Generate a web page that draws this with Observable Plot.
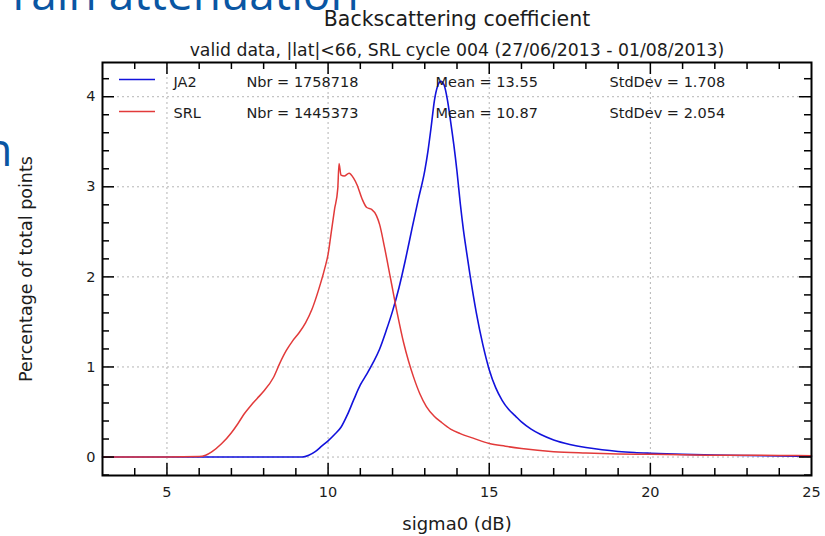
<!DOCTYPE html>
<html><head><meta charset="utf-8">
<script src="https://cdn.jsdelivr.net/npm/d3@7"></script>
<script src="https://cdn.jsdelivr.net/npm/@observablehq/plot@0.6"></script>
<style>
html,body{margin:0;padding:0;background:#fff;overflow:hidden}
</style>
</head><body><div id="chart"></div>
<script>
// ---- data ----
const seriesNames = ["JA2", "SRL"];
const legendNbr = ["1758718", "1445373"];
const legendMean = ["13.55", "10.87"];
const legendStd = ["1.708", "2.054"];

const ja2X = [3, 5, 9.2, 9.4, 9.6, 9.8, 10.0, 10.2, 10.4, 10.6, 10.8, 11.0, 11.2, 11.4, 11.6, 11.8, 12.0, 12.2, 12.4, 12.6, 12.8, 13.0, 13.1, 13.2, 13.3, 13.4, 13.5, 13.6, 13.7, 13.8, 13.9, 14.0, 14.1, 14.2, 14.3, 14.4, 14.6, 14.8, 15.0, 15.2, 15.4, 15.6, 15.8, 16.0, 16.3, 16.6, 17.0, 17.5, 18.0, 18.5, 19.0, 19.5, 20.0, 21.0, 22.0, 23.0, 24.0, 25.0];
const ja2Y = [0, 0, 0, 0.02, 0.06, 0.12, 0.18, 0.25, 0.33, 0.47, 0.64, 0.80, 0.92, 1.05, 1.20, 1.40, 1.62, 1.88, 2.19, 2.53, 2.86, 3.18, 3.40, 3.67, 3.96, 4.12, 4.17, 4.13, 3.97, 3.73, 3.47, 3.17, 2.82, 2.52, 2.27, 2.03, 1.60, 1.25, 0.97, 0.77, 0.63, 0.53, 0.46, 0.39, 0.31, 0.25, 0.19, 0.14, 0.105, 0.08, 0.062, 0.05, 0.042, 0.03, 0.022, 0.017, 0.013, 0.008];

const srlX = [3, 5, 6.0, 6.2, 6.4, 6.7, 7.0, 7.2, 7.4, 7.6, 7.8, 8.0, 8.3, 8.5, 8.7, 8.9, 9.1, 9.3, 9.5, 9.7, 9.9, 10.0, 10.1, 10.2, 10.3, 10.34, 10.4, 10.5, 10.65, 10.8, 10.9, 11.05, 11.2, 11.35, 11.5, 11.6, 11.75, 11.95, 12.15, 12.35, 12.5, 12.65, 12.85, 13.05, 13.3, 13.5, 13.8, 14.1, 14.5, 15.0, 15.5, 16.0, 17.0, 18.0, 19.0, 20.0, 21.0, 22.0, 23.0, 24.0, 25.0];
const srlY = [0, 0, 0.005, 0.02, 0.06, 0.15, 0.27, 0.37, 0.48, 0.57, 0.65, 0.73, 0.88, 1.04, 1.18, 1.29, 1.38, 1.49, 1.64, 1.85, 2.10, 2.25, 2.50, 2.75, 2.98, 3.26, 3.13, 3.12, 3.15, 3.09, 3.02, 2.87, 2.77, 2.75, 2.68, 2.58, 2.33, 1.96, 1.59, 1.26, 1.06, 0.89, 0.70, 0.56, 0.45, 0.39, 0.31, 0.26, 0.21, 0.15, 0.12, 0.095, 0.06, 0.045, 0.035, 0.03, 0.025, 0.02, 0.02, 0.018, 0.015];

const xTickLabels = [5, 10, 15, 20, 25];
const yTickLabels = [0, 1, 2, 3, 4];
const xGrid = [5, 10, 15, 20];
const titleText = "Backscattering coefficient";
const subtitleText = "valid data, |lat|<66, SRL cycle 004 (27/06/2013 - 01/08/2013)";
const xLabelText = "sigma0 (dB)";
const yLabelText = "Percentage of total points";
const slideText = "rain attenuation";
const slideText2 = "n";

// ---- build tables ----
const ja2 = ja2X.map((x, i) => ({x, y: ja2Y[i]}));
const srl = srlX.map((x, i) => ({x, y: srlY[i]}));
const xMinor = d3.range(4, 25).filter(v => v % 5 !== 0);
const yMinor = d3.range(-1, 22).map(k => +(k * 0.2).toFixed(1)).filter(v => Math.abs(v - Math.round(v)) > 1e-6);

const W = 825, H = 536, mL = 102, mR = 14, mT = 62, mB = 61;
const fw = W - mL - mR, fh = H - mT - mB;
const blue = "#1212dc", red = "#e23a3a", ink = "#1c1c1c";
const major = 12, minor = 7;
const tk = {stroke: "black", strokeWidth: 1.5};

const legendRows = seriesNames.map((s, i) => ({i, name: s, nbr: "Nbr = " + legendNbr[i], mean: "Mean = " + legendMean[i], std: "StdDev = " + legendStd[i]}));
const legendText = (field, dx) => legendRows.map(r => Plot.text([r], {
  text: field, frameAnchor: "top-left", textAnchor: "start", lineAnchor: "bottom",
  dx, dy: 24 + r.i * 31.5, fontSize: 14.5, fill: ink
}));

const chart = Plot.plot({
  width: W, height: H,
  marginLeft: mL, marginRight: mR, marginTop: mT, marginBottom: mB,
  style: {fontFamily: "DejaVu Sans", fontSize: "14.5px", color: ink, background: "white", overflow: "visible"},
  x: {domain: [3, 25]},
  y: {domain: [-0.205, 4.38]},
  marks: [
    Plot.gridX(xGrid, {stroke: "#b4b4b4", strokeOpacity: 1, strokeDasharray: "2,3"}),
    Plot.gridY(yTickLabels, {stroke: "#b4b4b4", strokeOpacity: 1, strokeDasharray: "2,3"}),
    Plot.line(ja2, {x: "x", y: "y", stroke: blue, strokeWidth: 1.6, curve: "monotone-x"}),
    Plot.line(srl, {x: "x", y: "y", stroke: red, strokeWidth: 1.5, curve: "monotone-x"}),
    // inward ticks on all four sides
    Plot.ruleX(xGrid, {...tk, insetTop: fh - major}),
    Plot.ruleX(xGrid, {...tk, insetBottom: fh - major}),
    Plot.ruleX(xMinor, {...tk, insetTop: fh - minor}),
    Plot.ruleX(xMinor, {...tk, insetBottom: fh - minor}),
    Plot.ruleY(yTickLabels, {...tk, insetRight: fw - major}),
    Plot.ruleY(yTickLabels, {...tk, insetLeft: fw - major}),
    Plot.ruleY(yMinor, {...tk, insetRight: fw - minor}),
    Plot.ruleY(yMinor, {...tk, insetLeft: fw - minor}),
    Plot.axisX(xTickLabels, {tickSize: 0, tickPadding: 11, label: null, fontSize: 14.5, fill: ink, tickFormat: d => String(d)}),
    Plot.axisY(yTickLabels, {tickSize: 0, tickPadding: 7, label: null, fontSize: 14.5, fill: ink, tickFormat: d => String(d)}),
    Plot.frame({stroke: "black", strokeWidth: 2}),
    // titles and axis labels
    Plot.text([titleText], {frameAnchor: "top", textAnchor: "middle", lineAnchor: "bottom", dy: -37, fontSize: 20.5, fill: ink}),
    Plot.text([subtitleText], {frameAnchor: "top", textAnchor: "middle", lineAnchor: "bottom", dy: -6.5, fontSize: 17.3, fill: ink}),
    Plot.text([xLabelText], {frameAnchor: "bottom", textAnchor: "middle", lineAnchor: "middle", dy: 49, fontSize: 18, fill: ink}),
    Plot.text([yLabelText], {frameAnchor: "left", textAnchor: "middle", lineAnchor: "middle", rotate: -90, dx: -76, fontSize: 17.5, fill: ink}),
    // legend text
    ...legendText("name", 71),
    ...legendText("nbr", 144),
    ...legendText("mean", 333),
    ...legendText("std", 507),
    // slide fragments visible in the reference
    Plot.text([slideText], {frameAnchor: "top-left", textAnchor: "start", lineAnchor: "bottom", dx: -90, dy: -53, fontFamily: "Open Sans", fontSize: 46, fill: "#0a56a3"}),
    Plot.text([slideText2], {frameAnchor: "top-left", textAnchor: "end", lineAnchor: "bottom", dx: -90, dy: 103, fontFamily: "Open Sans", fontSize: 46, fill: "#0a56a3"})
  ]
});

// legend swatches
const svg = d3.select(chart);
[blue, red].forEach((c, i) => {
  svg.append("line")
    .attr("x1", 119).attr("x2", 155)
    .attr("y1", 79.5 + i * 32).attr("y2", 79.5 + i * 32)
    .attr("stroke", c).attr("stroke-width", 1.5);
});

document.getElementById("chart").append(chart);
</script>
</body></html>
